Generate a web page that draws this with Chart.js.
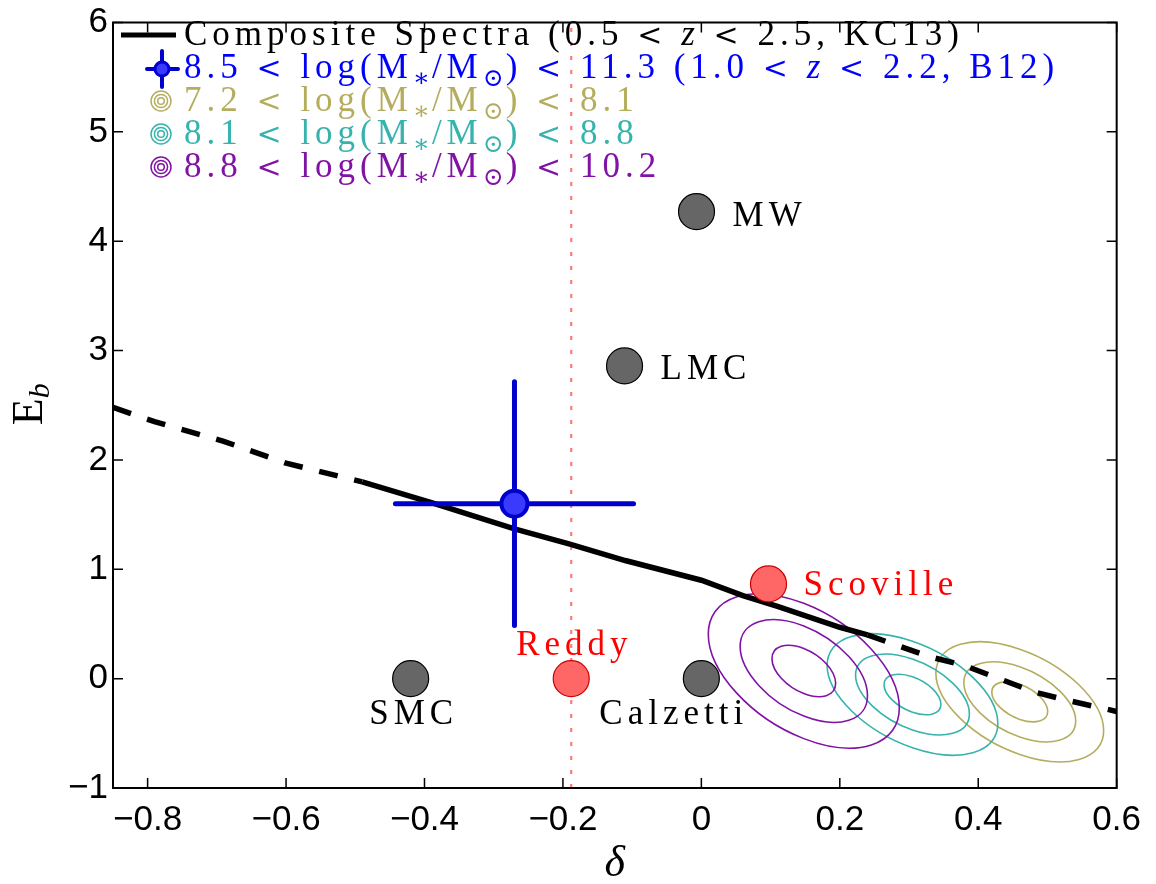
<!DOCTYPE html>
<html>
<head>
<meta charset="utf-8">
<script src="https://cdn.jsdelivr.net/npm/chart.js@4.4.0/dist/chart.umd.min.js"></script>
<style>
  html, body { margin: 0; padding: 0; background: #fff; }
  #wrap { width: 1156px; height: 884px; }
</style>
</head>
<body>
<div id="wrap"><canvas id="dustChart" width="1156" height="884"></canvas></div>
<script>
// composite spectra curve (KC13), solid between compSolidFrom and compSolidTo
const compX = [-0.85, -0.79, -0.69, -0.60, -0.49, -0.39, -0.27, -0.19, -0.11, 0.00, 0.06, 0.11, 0.20, 0.24, 0.28, 0.33, 0.38, 0.43, 0.48, 0.53, 0.60];
const compY = [2.48, 2.35, 2.17, 1.97, 1.80, 1.61, 1.37, 1.23, 1.08, 0.90, 0.76, 0.66, 0.47, 0.40, 0.31, 0.20, 0.12, 0.00, -0.12, -0.20, -0.30];
const compSolidFrom = 4;
const compSolidTo = 13;

// B12 point with errors
const b12X = -0.27;
const b12Y = 1.60;
const b12XErr = 0.172;
const b12YErr = 1.115;

// extinction curves (grey) and other studies (red)
const refNames = ['MW', 'LMC', 'SMC', 'Calzetti'];
const refX = [-0.007, -0.111, -0.42, 0.0];
const refY = [4.27, 2.86, 0, 0];
const otherNames = ['Reddy', 'Scoville'];
const otherX = [-0.188, 0.097];
const otherY = [0, 0.866];
const reddyLineX = -0.188;

// mass-bin contours: olive, teal, purple
const massLo = ['7.2', '8.1', '8.8'];
const massHi = ['8.1', '8.8', '10.2'];
const contourX = [0.460, 0.305, 0.148];
const contourY = [-0.212, -0.145, 0.070];
const contourSx = [0.0404, 0.0411, 0.0460];
const contourSy = [0.183, 0.185, 0.235];
const contourRho = [-0.48, -0.48, -0.48];
const contourLevels = [1, 2, 3];

const xTicks = [-0.8, -0.6, -0.4, -0.2, 0, 0.2, 0.4, 0.6];
const yTicks = [-1, 0, 1, 2, 3, 4, 5, 6];

const contourColors = ['#b5ad5e', '#36b3ad', '#8012a6'];
const SERIF = "'Liberation Serif', 'DejaVu Serif', serif";
const SANS = "'Liberation Sans', Arial, sans-serif";
const LS = 5;

const fmt = v => (v < 0 ? '\u2212' + Math.abs(v) : String(v));

// draws a run of text pieces, subscripts and italics; '<' gets a wider glyph
function drawRich(ctx, x, y, segs, size, color) {
  ctx.fillStyle = color;
  ctx.textAlign = 'left';
  ctx.textBaseline = 'alphabetic';
  segs.forEach(s => {
    const fs = s.sub ? Math.round(size * 0.7) : size;
    const parts = s.t.split(/(<)/);
    parts.forEach(p => {
      if (!p) return;
      if (p === '<') {
        ctx.font = Math.round(size * 0.86) + "px 'DejaVu Serif', serif";
      } else {
        ctx.font = (s.it ? 'italic ' : '') + fs + 'px ' + SERIF;
      }
      ctx.letterSpacing = (s.sub ? 2 : LS) + 'px';
      ctx.fillText(p, x, y + (s.sub ? size * 0.22 : 0));
      x += ctx.measureText(p).width;
    });
  });
}

const contourPlugin = {
  id: 'contours',
  beforeDatasetsDraw(chart) {
    const { ctx, chartArea: a, scales: { x, y } } = chart;
    const kx = x.getPixelForValue(1) - x.getPixelForValue(0);
    const ky = y.getPixelForValue(0) - y.getPixelForValue(1);
    ctx.save();
    ctx.beginPath();
    ctx.rect(a.left, a.top, a.right - a.left, a.bottom - a.top);
    ctx.clip();
    ctx.lineWidth = 1.6;
    contourX.forEach((cx, i) => {
      ctx.strokeStyle = contourColors[i];
      const s = Math.sqrt(1 - contourRho[i] * contourRho[i]);
      contourLevels.forEach(k => {
        ctx.save();
        ctx.translate(x.getPixelForValue(cx), y.getPixelForValue(contourY[i]));
        ctx.transform(kx * k * contourSx[i], -ky * k * contourSy[i] * contourRho[i], 0, -ky * k * contourSy[i] * s, 0, 0);
        ctx.beginPath();
        ctx.arc(0, 0, 1, 0, Math.PI * 2);
        ctx.restore();
        ctx.stroke();
      });
    });
    ctx.restore();
  }
};

const labelStyle = {
  MW: { dx: 36, dy: 14, align: 'left', color: '#000' },
  LMC: { dx: 36, dy: 13, align: 'left', color: '#000' },
  SMC: { dx: 3, dy: 45, align: 'center', color: '#000' },
  Calzetti: { dx: -102, dy: 45, align: 'left', color: '#000' },
  Reddy: { dx: -55, dy: -24, align: 'left', color: '#ff0000' },
  Scoville: { dx: 35, dy: 11, align: 'left', color: '#ff0000' }
};

const framePlugin = {
  id: 'frame',
  afterDraw(chart) {
    const { ctx, chartArea: a, scales: { x, y } } = chart;
    ctx.save();
    // box + inward ticks
    ctx.strokeStyle = '#000';
    ctx.lineWidth = 2;
    ctx.strokeRect(a.left, a.top, a.right - a.left, a.bottom - a.top);
    ctx.lineWidth = 1.5;
    ctx.beginPath();
    xTicks.forEach(v => {
      const px = x.getPixelForValue(v);
      ctx.moveTo(px, a.bottom); ctx.lineTo(px, a.bottom - 10);
      ctx.moveTo(px, a.top); ctx.lineTo(px, a.top + 10);
    });
    yTicks.forEach(v => {
      const py = y.getPixelForValue(v);
      ctx.moveTo(a.left, py); ctx.lineTo(a.left + 10, py);
      ctx.moveTo(a.right, py); ctx.lineTo(a.right - 10, py);
    });
    ctx.stroke();

    // point labels
    ctx.font = '35px ' + SERIF;
    ctx.letterSpacing = LS + 'px';
    ctx.textBaseline = 'alphabetic';
    const names = refNames.concat(otherNames);
    const xs = refX.concat(otherX);
    const ys = refY.concat(otherY);
    names.forEach((n, i) => {
      const st = labelStyle[n];
      ctx.fillStyle = st.color;
      ctx.textAlign = st.align;
      ctx.fillText(n, x.getPixelForValue(xs[i]) + st.dx, y.getPixelForValue(ys[i]) + st.dy);
    });

    // axis titles
    ctx.letterSpacing = '0px';
    ctx.fillStyle = '#000';
    ctx.textAlign = 'center';
    ctx.font = 'italic 44px ' + SERIF;
    ctx.fillText('\u03b4', (a.left + a.right) / 2, 876);
    ctx.save();
    ctx.translate(42, (a.top + a.bottom) / 2 + 20);
    ctx.rotate(-Math.PI / 2);
    ctx.textAlign = 'left';
    ctx.font = '44px ' + SERIF;
    ctx.fillText('E', 0, 0);
    const ew = ctx.measureText('E').width;
    ctx.font = 'italic 30px ' + SERIF;
    ctx.fillText('b', ew, 7);
    ctx.restore();

    // legend
    const rowY = [35, 69, 101, 134, 167];
    const textX = 184;
    ctx.lineCap = 'butt';
    ctx.strokeStyle = '#000';
    ctx.lineWidth = 5;
    ctx.beginPath(); ctx.moveTo(121, rowY[0]); ctx.lineTo(176, rowY[0]); ctx.stroke();
    drawRich(ctx, textX, rowY[0] + 10, [{ t: 'Composite Spectra (0.5 < ' }, { t: 'z', it: true }, { t: ' < 2.5, KC13)' }], 35, '#000');

    ctx.strokeStyle = '#0000cc';
    ctx.lineWidth = 4;
    ctx.lineCap = 'round';
    ctx.beginPath();
    ctx.moveTo(147, rowY[1]); ctx.lineTo(178, rowY[1]);
    ctx.moveTo(162, rowY[1] - 18); ctx.lineTo(162, rowY[1] + 18);
    ctx.stroke();
    ctx.beginPath(); ctx.arc(162, rowY[1], 7, 0, Math.PI * 2);
    ctx.fillStyle = '#3a3aff'; ctx.fill();
    ctx.lineWidth = 3; ctx.stroke();
    drawRich(ctx, textX, rowY[1] + 9, [
      { t: '8.5 < log(M' }, { t: '\u2217', sub: true }, { t: '/M' }, { t: '\u2299', sub: true },
      { t: ') < 11.3 (1.0 < ' }, { t: 'z', it: true }, { t: ' < 2.2, B12)' }
    ], 35, '#0000ff');

    massLo.forEach((lo, i) => {
      const cy = rowY[i + 2];
      ctx.strokeStyle = contourColors[i];
      ctx.lineWidth = 1.5;
      [3.3, 6.6, 10].forEach(r => {
        ctx.beginPath(); ctx.arc(161, cy, r, 0, Math.PI * 2); ctx.stroke();
      });
      drawRich(ctx, textX, cy + 10, [
        { t: lo + ' < log(M' }, { t: '\u2217', sub: true }, { t: '/M' }, { t: '\u2299', sub: true },
        { t: ') < ' + massHi[i] }
      ], 35, contourColors[i]);
    });
    ctx.restore();
  }
};

const ctx = document.getElementById('dustChart').getContext('2d');
new Chart(ctx, {
  type: 'scatter',
  data: {
    datasets: [
      {
        label: 'ref',
        data: refX.map((v, i) => ({ x: v, y: refY[i] })),
        pointRadius: 18,
        backgroundColor: '#666666',
        borderColor: '#000',
        borderWidth: 1.2,
        order: 0
      },
      {
        label: 'other',
        data: otherX.map((v, i) => ({ x: v, y: otherY[i] })),
        pointRadius: 18,
        backgroundColor: '#ff6666',
        borderColor: '#cc0000',
        borderWidth: 1.2,
        order: 0
      },
      {
        label: 'B12',
        data: [{ x: b12X, y: b12Y }],
        pointRadius: 13,
        backgroundColor: '#3a3aff',
        borderColor: '#0000cc',
        borderWidth: 4,
        order: 1
      },
      {
        type: 'line',
        label: 'B12 xerr',
        data: [{ x: b12X - b12XErr, y: b12Y }, { x: b12X + b12XErr, y: b12Y }],
        borderColor: '#0000cc',
        borderWidth: 5,
        borderCapStyle: 'round',
        pointRadius: 0,
        order: 2
      },
      {
        type: 'line',
        label: 'B12 yerr',
        data: [{ x: b12X, y: b12Y - b12YErr }, { x: b12X, y: b12Y + b12YErr }],
        borderColor: '#0000cc',
        borderWidth: 5,
        borderCapStyle: 'round',
        pointRadius: 0,
        order: 2
      },
      {
        type: 'line',
        label: 'Composite Spectra',
        data: compX.map((v, i) => ({ x: v, y: compY[i] })),
        borderColor: '#000',
        borderWidth: 5.5,
        pointRadius: 0,
        tension: 0,
        borderDash: [],
        segment: {
          borderDash: c => (c.p0DataIndex < compSolidFrom || c.p0DataIndex >= compSolidTo) ? [19, 17] : []
        },
        order: 3
      },
      {
        type: 'line',
        label: 'Reddy line',
        data: [{ x: reddyLineX, y: -1 }, { x: reddyLineX, y: 6 }],
        borderColor: '#ff7a7a',
        borderWidth: 2.2,
        borderDash: [4, 10],
        pointRadius: 0,
        order: 4
      }
    ]
  },
  options: {
    responsive: false,
    animation: false,
    layout: { padding: { top: 18, right: 36, left: 0, bottom: 0 } },
    plugins: { legend: { display: false }, tooltip: { enabled: false } },
    scales: {
      x: {
        type: 'linear',
        min: -0.85,
        max: 0.6,
        afterFit: s => { s.height = 96; },
        afterBuildTicks: s => { s.ticks = xTicks.map(v => ({ value: v })); },
        grid: { display: false, drawTicks: false },
        border: { display: false },
        ticks: {
          color: '#000',
          padding: 15,
          maxRotation: 0,
          font: { family: SANS, size: 35, lineHeight: 1 },
          callback: v => fmt(v)
        }
      },
      y: {
        type: 'linear',
        min: -1,
        max: 6,
        afterFit: s => { s.width = 113; },
        afterBuildTicks: s => { s.ticks = yTicks.map(v => ({ value: v })); },
        grid: { display: false, drawTicks: false },
        border: { display: false },
        ticks: {
          color: '#000',
          padding: 5,
          font: { family: SANS, size: 35, lineHeight: 1 },
          callback: v => fmt(v)
        }
      }
    }
  },
  plugins: [contourPlugin, framePlugin]
});
</script>
</body>
</html>
